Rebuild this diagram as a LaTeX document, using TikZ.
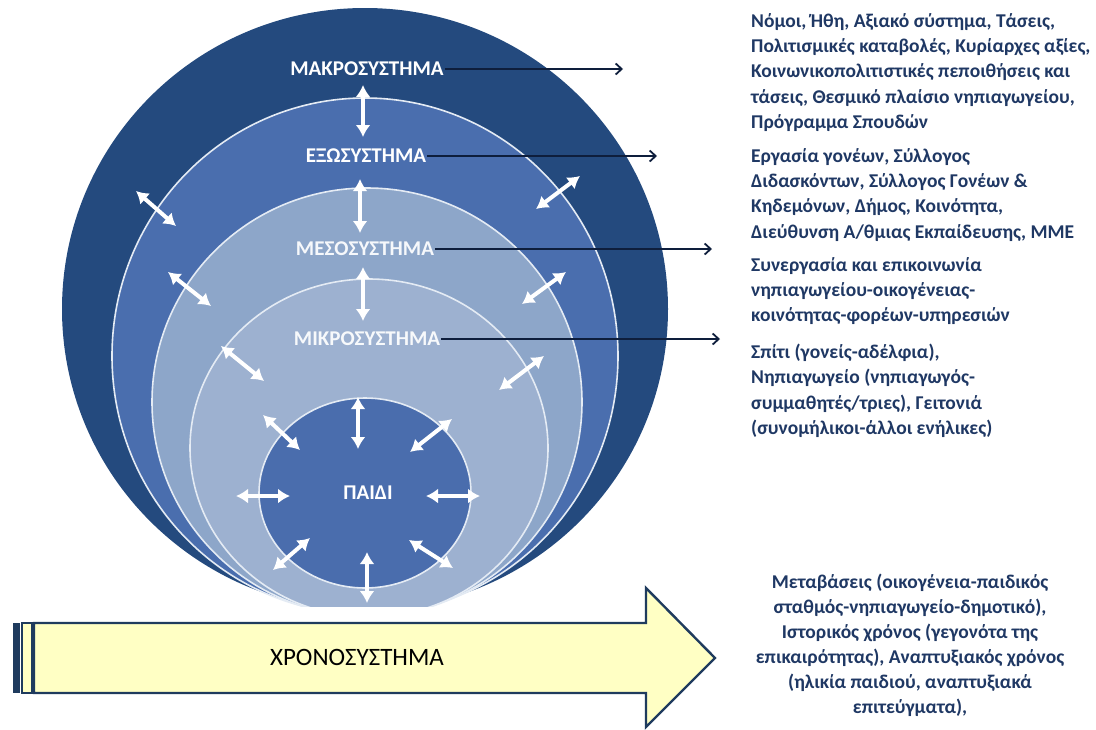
\documentclass[tikz,border=0pt]{standalone}
\usepackage{fontspec}
\setmainfont{Carlito}
\usetikzlibrary{arrows.meta}
\definecolor{macroC}{HTML}{244A7E}
\definecolor{exoC}{HTML}{4A6EAE}
\definecolor{mesoC}{HTML}{8DA6C9}
\definecolor{microC}{HTML}{9DB1D0}
\definecolor{childC}{HTML}{4A6DAD}
\definecolor{ringline}{HTML}{E4EBF4}
\definecolor{navyT}{HTML}{1F3864}
\definecolor{navyL}{HTML}{0E1E3C}
\definecolor{arrowY}{HTML}{FFFFC4}
\definecolor{arrowB}{HTML}{1F3B5E}
\tikzset{
  ring/.style={draw=ringline, line width=1.6pt},
  syslabel/.style={font=\bfseries\fontsize{21}{23}\selectfont, text=white, inner sep=1pt},
  infotext/.style={font=\bfseries\fontsize{19.5}{25.3}\selectfont, text=navyT, align=left, anchor=north west, inner sep=0pt},
  chronotext/.style={font=\bfseries\fontsize{19.5}{25}\selectfont, text=navyT, align=center, inner sep=0pt},
  pointer/.style={draw=navyL, line width=1.8pt, -{Straight Barb[length=6pt,width=11pt,line width=1.8pt]}},
  dbl/.style={draw=white, line width=4pt, {Latex[length=12pt,width=15pt]}-{Latex[length=12pt,width=15pt]}}
}
\begin{document}
\begin{tikzpicture}[x=1pt,y=-1pt]
\useasboundingbox (0,0) rectangle (1096,729);
\fill[white] (0,0) rectangle (1096,729);
% nested systems
\begin{scope}
\clip (0,0) rectangle (1096,606);
\fill[macroC] (365,309) ellipse [x radius=303, y radius=301];
\fill[exoC] (365,356) ellipse [x radius=253, y radius=258];
\draw[ring] (365,356) ellipse [x radius=253, y radius=258];
\fill[mesoC] (367,402) ellipse [x radius=215, y radius=214];
\draw[ring] (367,402) ellipse [x radius=215, y radius=214];
\fill[microC] (369,448) ellipse [x radius=179, y radius=169];
\draw[ring] (369,448) ellipse [x radius=179, y radius=169];
\fill[childC] (365,493) ellipse [x radius=106, y radius=95];
\draw[ring] (365,493) ellipse [x radius=106, y radius=95];
\end{scope}
% labels
\node[syslabel] (macro) at (367,69) {ΜΑΚΡΟΣΥΣΤΗΜΑ};
\node[syslabel] (exo) at (366,156) {ΕΞΩΣΥΣΤΗΜΑ};
\node[syslabel, text=white!92!mesoC] (meso) at (365,249) {ΜΕΣΟΣΥΣΤΗΜΑ};
\node[syslabel, text=white!92!microC] (micro) at (367,339) {ΜΙΚΡΟΣΥΣΤΗΜΑ};
\node[syslabel] (child) at (368,493) {ΠΑΙΔΙ};
% pointer ends
\coordinate (pmacro) at (623,69);
\coordinate (pexo) at (657,156);
\coordinate (pmeso) at (712,249);
\coordinate (pmicro) at (720,339);
\draw[pointer] (macro.east) -- (pmacro);
\draw[pointer] (exo.east) -- (pexo);
\draw[pointer] (meso.east) -- (pmeso);
\draw[pointer] (micro.east) -- (pmicro);
% white double arrows
\foreach \i/\ax/\ay/\bx/\by in {
  1/363/85/363/137, 2/360/179/360/233, 3/363/267/363/321,
  4/358/397/358/449, 5/367/552/367/603,
  6/136/191/176/226, 7/580/176/536/209,
  8/168/272/211/306, 9/566/272/522/304,
  10/221/346/264/381, 11/544/356/499/390,
  12/263/415/300/450, 13/452/419/410/452,
  14/236/496/290/496, 15/426/496/480/496,
  16/310/538/273/570, 17/409/540/453/568}{
  \coordinate (da\i) at (\ax,\ay);
  \coordinate (db\i) at (\bx,\by);
  \draw[dbl] (da\i) -- (db\i);
}
% information texts
\node[infotext] (tmacro) at (751,13) {Νόμοι, Ήθη, Αξιακό σύστημα, Τάσεις,\\Πολιτισμικές καταβολές, Κυρίαρχες αξίες,\\Κοινωνικοπολιτιστικές πεποιθήσεις και\\τάσεις, Θεσμικό πλαίσιο νηπιαγωγείου,\\Πρόγραμμα Σπουδών};
\node[infotext] (texo) at (751,148) {Εργασία γονέων, Σύλλογος\\Διδασκόντων, Σύλλογος Γονέων \&\\Κηδεμόνων, Δήμος, Κοινότητα,\\Διεύθυνση Α/θμιας Εκπαίδευσης, ΜΜΕ};
\node[infotext] (tmeso) at (751,257) {Συνεργασία και επικοινωνία\\νηπιαγωγείου-οικογένειας-\\κοινότητας-φορέων-υπηρεσιών};
\node[infotext] (tmicro) at (751,344) {Σπίτι (γονείς-αδέλφια),\\Νηπιαγωγείο (νηπιαγωγός-\\συμμαθητές/τριες), Γειτονιά\\(συνομήλικοι-άλλοι ενήλικες)};
% chronosystem arrow
\fill[arrowB] (13,623) rectangle (20,693);
\draw[arrowB, line width=1.2pt, fill=arrowY] (22,623) rectangle (32,693);
\draw[arrowB, line width=2.4pt, fill=arrowY, line join=miter]
  (34,623) -- (646,623) -- (646,588) -- (715,658) -- (646,727) -- (646,693) -- (34,693) -- cycle;
\node[font=\fontsize{25}{27}\selectfont, text=black] (chrono) at (357,657) {ΧΡΟΝΟΣΥΣΤΗΜΑ};
\node[chronotext] (tchrono) at (910,645) {Μεταβάσεις (οικογένεια-παιδικός\\σταθμός-νηπιαγωγείο-δημοτικό),\\Ιστορικός χρόνος (γεγονότα της\\επικαιρότητας), Αναπτυξιακός χρόνος\\(ηλικία παιδιού, αναπτυξιακά\\επιτεύγματα),};
\end{tikzpicture}
\end{document}
